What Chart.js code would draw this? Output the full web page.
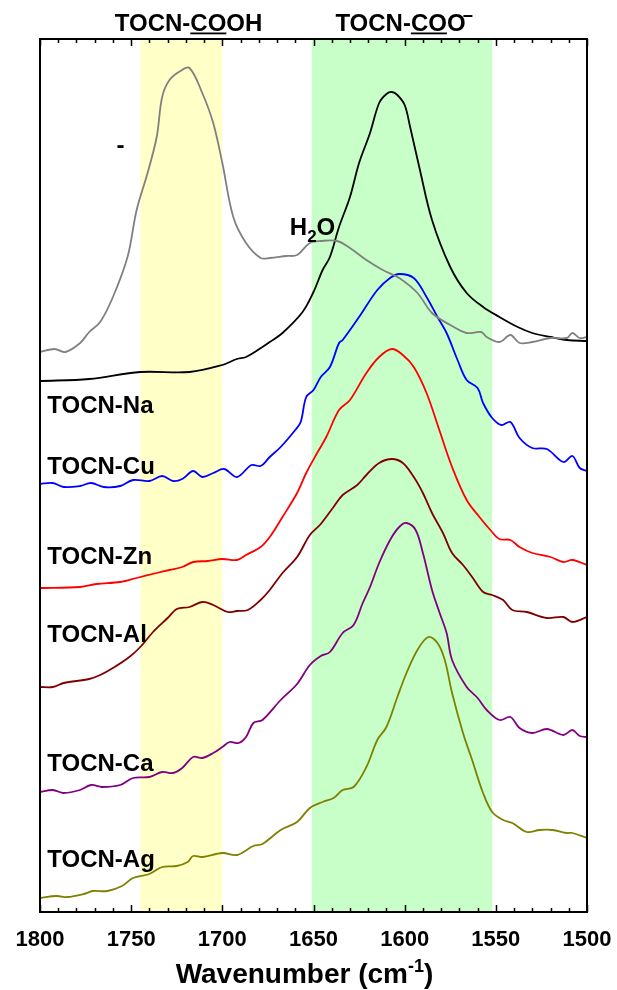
<!DOCTYPE html>
<html>
<head>
<meta charset="utf-8">
<script src="https://cdn.jsdelivr.net/npm/chart.js@4.4.1/dist/chart.umd.min.js"></script>
<style>
  html, body { margin: 0; padding: 0; background: #fff; }
  #wrap { width: 617px; height: 990px; }
</style>
</head>
<body>
<div id="wrap"><canvas id="chart" width="617" height="990"></canvas></div>
<script>
// spectra: wavenumber (cm-1) and offset absorbance (arbitrary units)
const coohWn = [1800,1792,1786,1778,1773,1767,1760,1752,1747,1741,1736,1733,1729,1723,1718,1711,1705,1700,1694,1687,1679,1674,1665,1659,1652,1646,1637,1630,1621,1612,1603,1593,1585,1575,1566,1558,1555,1548,1542,1537,1530,1520,1511,1508,1504,1500];
const coohAbs = [553,556,553,562,573,583,608,648,695,732,768,808,825,834,837,812,782,742,688,662,647,647,649,650,662,664,664,657,645,635,627,612,592,580,572,573,568,563,570,562,563,567,567,572,567,568];

const naWn = [1800,1773,1745,1718,1700,1692,1687,1678,1674,1667,1656,1650,1645,1641,1636,1630,1625,1619,1614,1610,1607,1604,1600,1597,1592,1585,1575,1566,1557,1548,1538,1530,1520,1511,1500];
const naAbs = [524,526,533,533,540,546,548,558,563,572,593,613,635,648,678,708,742,772,802,811,813,810,800,778,738,685,638,612,598,588,578,572,568,565,564];

const cuWn = [1800,1793,1787,1778,1772,1765,1756,1749,1740,1733,1727,1722,1716,1711,1705,1699,1692,1684,1679,1674,1668,1660,1657,1654,1650,1646,1641,1636,1634,1625,1615,1608,1603,1595,1588,1582,1577,1571,1566,1560,1557,1552,1547,1542,1537,1530,1522,1513,1508,1504,1500];
const cuAbs = [421,422,418,419,422,418,419,425,424,429,424,426,434,428,432,436,428,440,439,448,458,475,483,508,515,528,538,562,565,588,615,627,631,627,608,588,572,545,525,517,502,487,480,483,467,457,456,443,449,437,434];

const znWn = [1800,1778,1769,1756,1747,1736,1729,1722,1716,1708,1700,1692,1687,1679,1674,1667,1659,1654,1648,1643,1636,1630,1621,1614,1607,1601,1595,1588,1581,1574,1566,1559,1553,1548,1542,1537,1530,1520,1513,1508,1500];
const znAbs = [317,318,321,323,327,332,335,338,343,344,346,345,350,358,368,388,412,432,452,468,495,505,532,548,556,550,538,512,475,438,405,388,375,366,365,358,352,348,343,345,340];

const alWn = [1800,1793,1787,1773,1767,1760,1751,1745,1738,1730,1725,1718,1711,1705,1697,1692,1686,1679,1674,1667,1659,1652,1646,1639,1634,1626,1621,1614,1607,1601,1595,1590,1585,1579,1574,1568,1563,1557,1552,1546,1541,1533,1522,1513,1508,1500];
const alAbs = [218,218,222,226,230,237,248,258,273,287,296,298,303,300,293,294,295,305,315,332,348,370,381,398,410,420,430,442,446,442,428,412,392,372,352,340,328,313,310,305,295,293,287,288,283,288];

const caWn = [1800,1793,1787,1778,1772,1766,1756,1749,1740,1733,1727,1722,1716,1711,1705,1700,1696,1691,1687,1683,1678,1668,1659,1652,1646,1641,1634,1628,1623,1619,1614,1608,1603,1599,1594,1590,1585,1581,1577,1574,1566,1560,1555,1548,1542,1537,1530,1522,1513,1508,1504,1500];
const caAbs = [113,115,112,115,120,118,120,127,128,133,132,137,148,147,152,158,163,162,168,182,185,205,221,240,249,253,272,280,302,318,342,365,378,382,375,352,315,293,272,245,218,207,195,185,188,177,172,176,170,175,169,168];

const agWn = [1800,1791,1785,1776,1771,1763,1755,1749,1740,1733,1725,1719,1716,1711,1700,1692,1683,1678,1668,1659,1652,1645,1639,1634,1628,1621,1615,1610,1604,1599,1593,1587,1582,1578,1574,1568,1563,1557,1552,1546,1541,1533,1526,1519,1511,1508,1500];
const agAbs = [7,9,8,11,14,14,19,27,31,38,39,43,49,48,52,50,59,61,75,83,97,103,107,115,118,138,165,178,208,232,255,268,262,245,212,172,145,112,93,85,82,73,75,75,72,72,67];

const seriesNames = ['TOCN-COOH', 'TOCN-Na', 'TOCN-Cu', 'TOCN-Zn', 'TOCN-Al', 'TOCN-Ca', 'TOCN-Ag'];
const seriesWn = [coohWn, naWn, cuWn, znWn, alWn, caWn, agWn];
const seriesAbs = [coohAbs, naAbs, cuAbs, znAbs, alAbs, caAbs, agAbs];
const seriesColors = ['#808080', '#000000', '#0000ff', '#ff0000', '#800000', '#800080', '#808000'];

// shaded regions (cm-1)
const bandCOOH = [1745, 1700];
const bandCOO = [1651, 1552];

// curve labels: text, wavenumber, level
const curveLabels = [
    ['-', 1758, 752],
    ['TOCN-Na', 1796, 492],
    ['TOCN-Cu', 1796, 431],
    ['TOCN-Zn', 1796, 341],
    ['TOCN-Al', 1796, 263],
    ['TOCN-Ca', 1796, 134],
    ['TOCN-Ag', 1796, 38],
];

const FONT = '"Liberation Sans", Arial, Helvetica, sans-serif';

function drawParts(ctx, x, y, parts) {
    // parts: [text, size, dy, underline, dx]
    let cx = x;
    parts.forEach(p => {
        ctx.font = 'bold ' + p[1] + 'px ' + FONT;
        cx += p[4] || 0;
        const w = ctx.measureText(p[0]).width;
        ctx.fillText(p[0], cx, y + (p[2] || 0));
        if (p[3]) {
            ctx.fillRect(cx, y + 1.5, w, 1.8);
        }
        cx += w;
    });
}

function partsWidth(ctx, parts) {
    let w = 0;
    parts.forEach(p => {
        ctx.font = 'bold ' + p[1] + 'px ' + FONT;
        w += ctx.measureText(p[0]).width + (p[4] || 0);
    });
    return w;
}

const decor = {
    id: 'decor',
    beforeDatasetsDraw(chart) {
        const ctx = chart.ctx;
        const xs = chart.scales.x;
        const a = chart.chartArea;
        ctx.save();
        ctx.fillStyle = '#ffffc8';
        let x1 = xs.getPixelForValue(bandCOOH[0]), x2 = xs.getPixelForValue(bandCOOH[1]);
        ctx.fillRect(x1, a.top, x2 - x1, a.bottom - a.top);
        ctx.fillStyle = '#c8ffc8';
        x1 = xs.getPixelForValue(bandCOO[0]); x2 = xs.getPixelForValue(bandCOO[1]);
        ctx.fillRect(x1, a.top, x2 - x1, a.bottom - a.top);
        ctx.restore();
    },
    afterDraw(chart) {
        const ctx = chart.ctx;
        const xs = chart.scales.x;
        const ys = chart.scales.y;
        const a = chart.chartArea;
        ctx.save();
        // frame
        ctx.strokeStyle = '#000';
        ctx.lineWidth = 2;
        ctx.strokeRect(a.left, a.top, a.right - a.left, a.bottom - a.top);
        // inward ticks, top and bottom
        ctx.lineWidth = 1.5;
        ctx.beginPath();
        for (let v = 1500; v <= 1800; v += 10) {
            const px = Math.round(xs.getPixelForValue(v)) + 0.5;
            const len = v % 50 === 0 ? 7 : 4;
            ctx.moveTo(px, a.bottom);
            ctx.lineTo(px, a.bottom - len);
            ctx.moveTo(px, a.top);
            ctx.lineTo(px, a.top + len);
        }
        ctx.stroke();

        ctx.fillStyle = '#000';
        ctx.textBaseline = 'alphabetic';
        ctx.textAlign = 'left';
        // band titles
        drawParts(ctx, xs.getPixelForValue(1759), a.top - 8, [['TOCN-', 24], ['CO', 24, 0, true], ['OH', 24]]);
        drawParts(ctx, xs.getPixelForValue(1638), a.top - 8, [['TOCN-', 24], ['CO', 24, 0, true], ['O', 24], ['\u2212', 18, -9, false, -3]]);
        // curve labels
        curveLabels.forEach(l => {
            drawParts(ctx, xs.getPixelForValue(l[1]), ys.getPixelForValue(l[2]), [[l[0], 24]]);
        });
        drawParts(ctx, xs.getPixelForValue(1663), ys.getPixelForValue(670), [['H', 24], ['2', 17, 7], ['O', 24]]);
        // axis title
        const tparts = [['Wavenumber (cm', 28], ['-1', 18, -11], [')', 28]];
        const tw = partsWidth(ctx, tparts);
        drawParts(ctx, (a.left + a.right) / 2 - 9 - tw / 2, 983, tparts);
        ctx.restore();
    }
};

const datasets = seriesNames.map((name, i) => ({
    label: name,
    data: seriesWn[i].map((w, j) => ({ x: w, y: seriesAbs[i][j] })),
    borderColor: seriesColors[i],
    borderWidth: 1.8,
    pointRadius: 0,
    tension: 0.35,
    fill: false,
}));

new Chart(document.getElementById('chart').getContext('2d'), {
    type: 'line',
    data: { datasets: datasets },
    options: {
        responsive: false,
        animation: false,
        layout: { padding: { left: 40, right: 30, top: 39, bottom: 0 } },
        plugins: { legend: { display: false }, tooltip: { enabled: false } },
        scales: {
            x: {
                type: 'linear',
                reverse: true,
                min: 1500,
                max: 1800,
                afterFit: s => { s.height = 78; s.paddingLeft = 0; s.paddingRight = 0; },
                grid: { display: false, drawTicks: false },
                border: { display: false },
                ticks: {
                    stepSize: 50,
                    padding: 15,
                    color: '#000',
                    maxRotation: 0,
                    callback: v => String(v),
                    font: { family: FONT, size: 22, weight: 'bold' },
                },
            },
            y: {
                display: false,
                min: -7,
                max: 866,
            },
        },
    },
    plugins: [decor],
});
</script>
</body>
</html>
